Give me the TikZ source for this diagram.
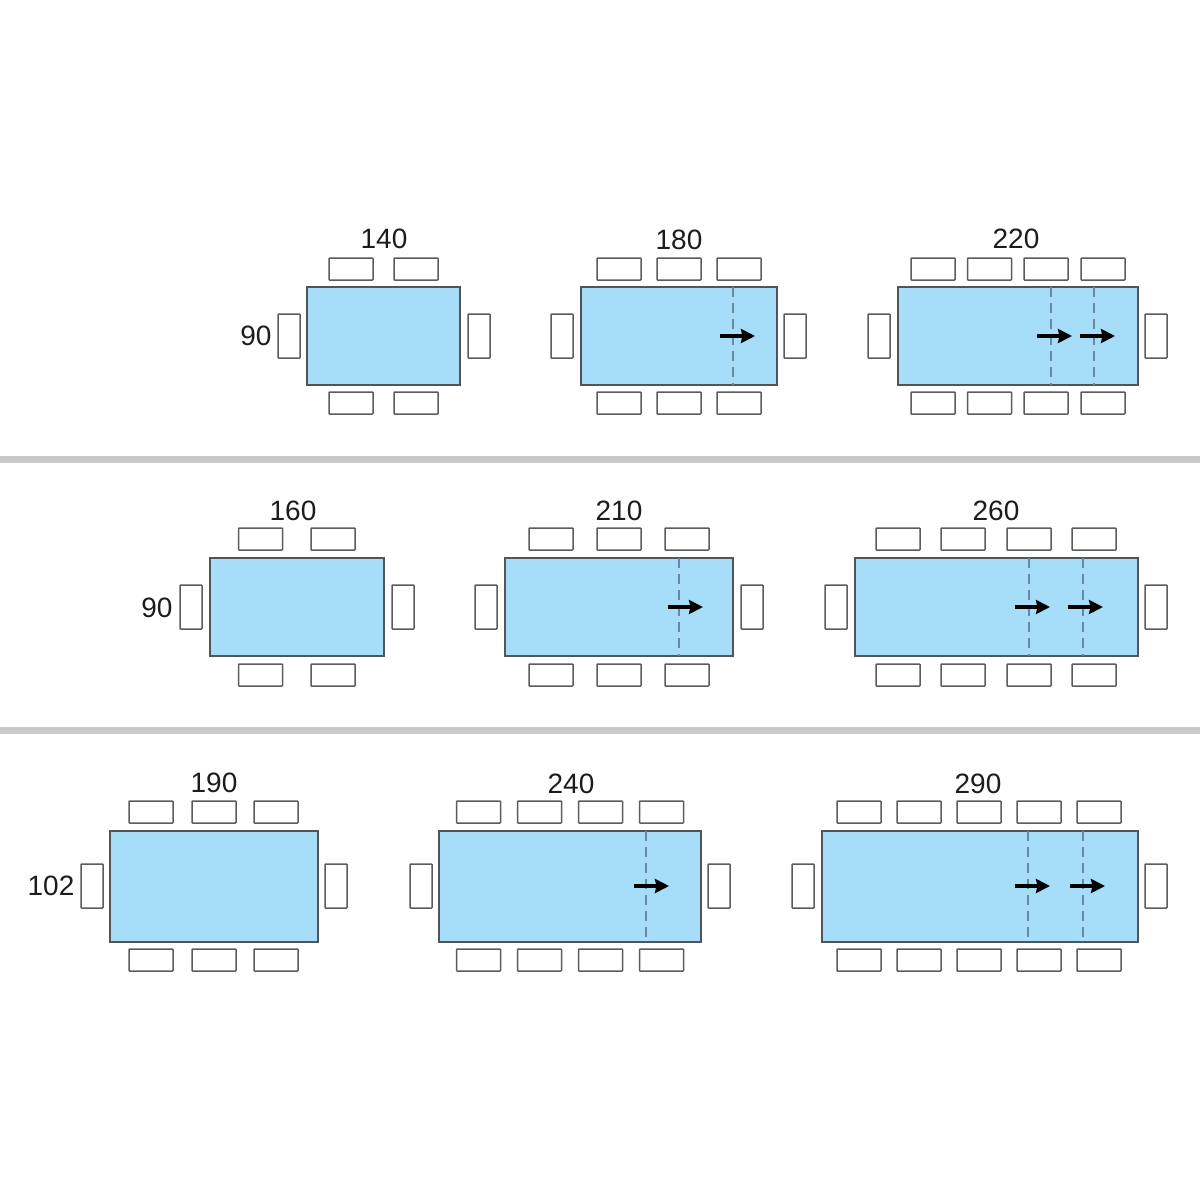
\documentclass[tikz,border=0pt]{standalone}
\usepackage{fontspec}
\setmainfont{Liberation Sans}
\usetikzlibrary{arrows.meta}
\definecolor{tablefill}{HTML}{A6DDF8}
\definecolor{edgec}{HTML}{4F5558}
\definecolor{chairc}{HTML}{5C5C5C}
\definecolor{sepc}{HTML}{C9C9C9}
\definecolor{dashc}{HTML}{66899C}
\definecolor{textc}{HTML}{1C1C1C}
\tikzset{
  tabletop/.style={draw=edgec,fill=tablefill,line width=1.4pt},
  chair/.style={draw=chairc,fill=white,line width=1.5pt,rounded corners=0.6pt},
  foldline/.style={draw=dashc,line width=1.2pt,dash pattern=on 10pt off 6pt},
  pusharrow/.style={draw=black,line width=4.2pt,-{Stealth[length=14pt,width=14pt,inset=1.5pt]}},
  separator/.style={draw=none,fill=sepc},
  lbl/.style={text=textc,font=\fontsize{28}{30}\selectfont,inner sep=0pt,anchor=center}
}
% \hchairs{top y}{bottom y}{list of centre x}
\newcommand{\hchairs}[3]{\foreach \cx in {#3}{
  \draw[chair] (\cx-22,#1) rectangle (\cx+22,#1+22);
  \draw[chair] (\cx-22,#2) rectangle (\cx+22,#2+22);}}
% \vchairs{top y}{list of left x}
\newcommand{\vchairs}[2]{\foreach \cx in {#2}{
  \draw[chair] (\cx,#1) rectangle (\cx+22,#1+44);}}
% \tabl{x0}{y0}{x1}{y1}
\newcommand{\tabl}[4]{\draw[tabletop] (#1,#2) rectangle (#3,#4);}
% \fold{y0}{y1}{list of x}
\newcommand{\fold}[3]{\foreach \fx in {#3}{\draw[foldline] (\fx,#1) -- (\fx,#2);}}
% \push{y}{list of start x}
\newcommand{\push}[2]{\foreach \ax in {#2}{\draw[pusharrow] (\ax,#1) -- (\ax+35,#1);}}
\begin{document}
\begin{tikzpicture}[x=1pt,y=-1pt]
\useasboundingbox (0,0) rectangle (1200,1200);
\fill[white] (0,0) rectangle (1200,1200);
\fill[separator] (0,456) rectangle (1200,463);
\fill[separator] (0,727) rectangle (1200,734);
% row 1
\tabl{307}{287}{460}{385}
\hchairs{258}{392}{351,416}
\vchairs{314}{278,468}
\tabl{581}{287}{777}{385}
\hchairs{258}{392}{619,679,739}
\vchairs{314}{551,784}
\fold{287}{385}{733}
\push{336}{720}
\tabl{898}{287}{1138}{385}
\hchairs{258}{392}{933,989.5,1046,1103}
\vchairs{314}{868,1145}
\fold{287}{385}{1051,1094}
\push{336}{1037,1080}
\node[lbl] (t140) at (384,239) {140};
\node[lbl] (t180) at (679,240) {180};
\node[lbl] (t220) at (1016,239) {220};
\node[lbl] (s90a) at (256,336) {90};
% row 2
\tabl{210}{558}{384}{656}
\hchairs{528}{664}{260.5,333}
\vchairs{585}{180,392}
\tabl{505}{558}{733}{656}
\hchairs{528}{664}{551,619,687}
\vchairs{585}{475,741}
\fold{558}{656}{679}
\push{607}{668}
\tabl{855}{558}{1138}{656}
\hchairs{528}{664}{898,963,1029,1094}
\vchairs{585}{825,1145}
\fold{558}{656}{1029,1083}
\push{607}{1015,1068}
\node[lbl] (t160) at (293,511) {160};
\node[lbl] (t210) at (619,511) {210};
\node[lbl] (t260) at (996,511) {260};
\node[lbl] (s90b) at (157,608) {90};
% row 3
\tabl{110}{831}{318}{942}
\hchairs{801}{949}{151,214,276}
\vchairs{864}{81,325}
\tabl{439}{831}{701}{942}
\hchairs{801}{949}{478.5,539.5,600.5,661.5}
\vchairs{864}{410,708}
\fold{831}{942}{646}
\push{886}{634}
\tabl{822}{831}{1138}{942}
\hchairs{801}{949}{859,919,979,1039,1099}
\vchairs{864}{792,1145}
\fold{831}{942}{1028,1083}
\push{886}{1015,1070}
\node[lbl] (t190) at (214,783) {190};
\node[lbl] (t240) at (571,784) {240};
\node[lbl] (t290) at (978,784) {290};
\node[lbl] (s102) at (51,886) {102};
\end{tikzpicture}
\end{document}
